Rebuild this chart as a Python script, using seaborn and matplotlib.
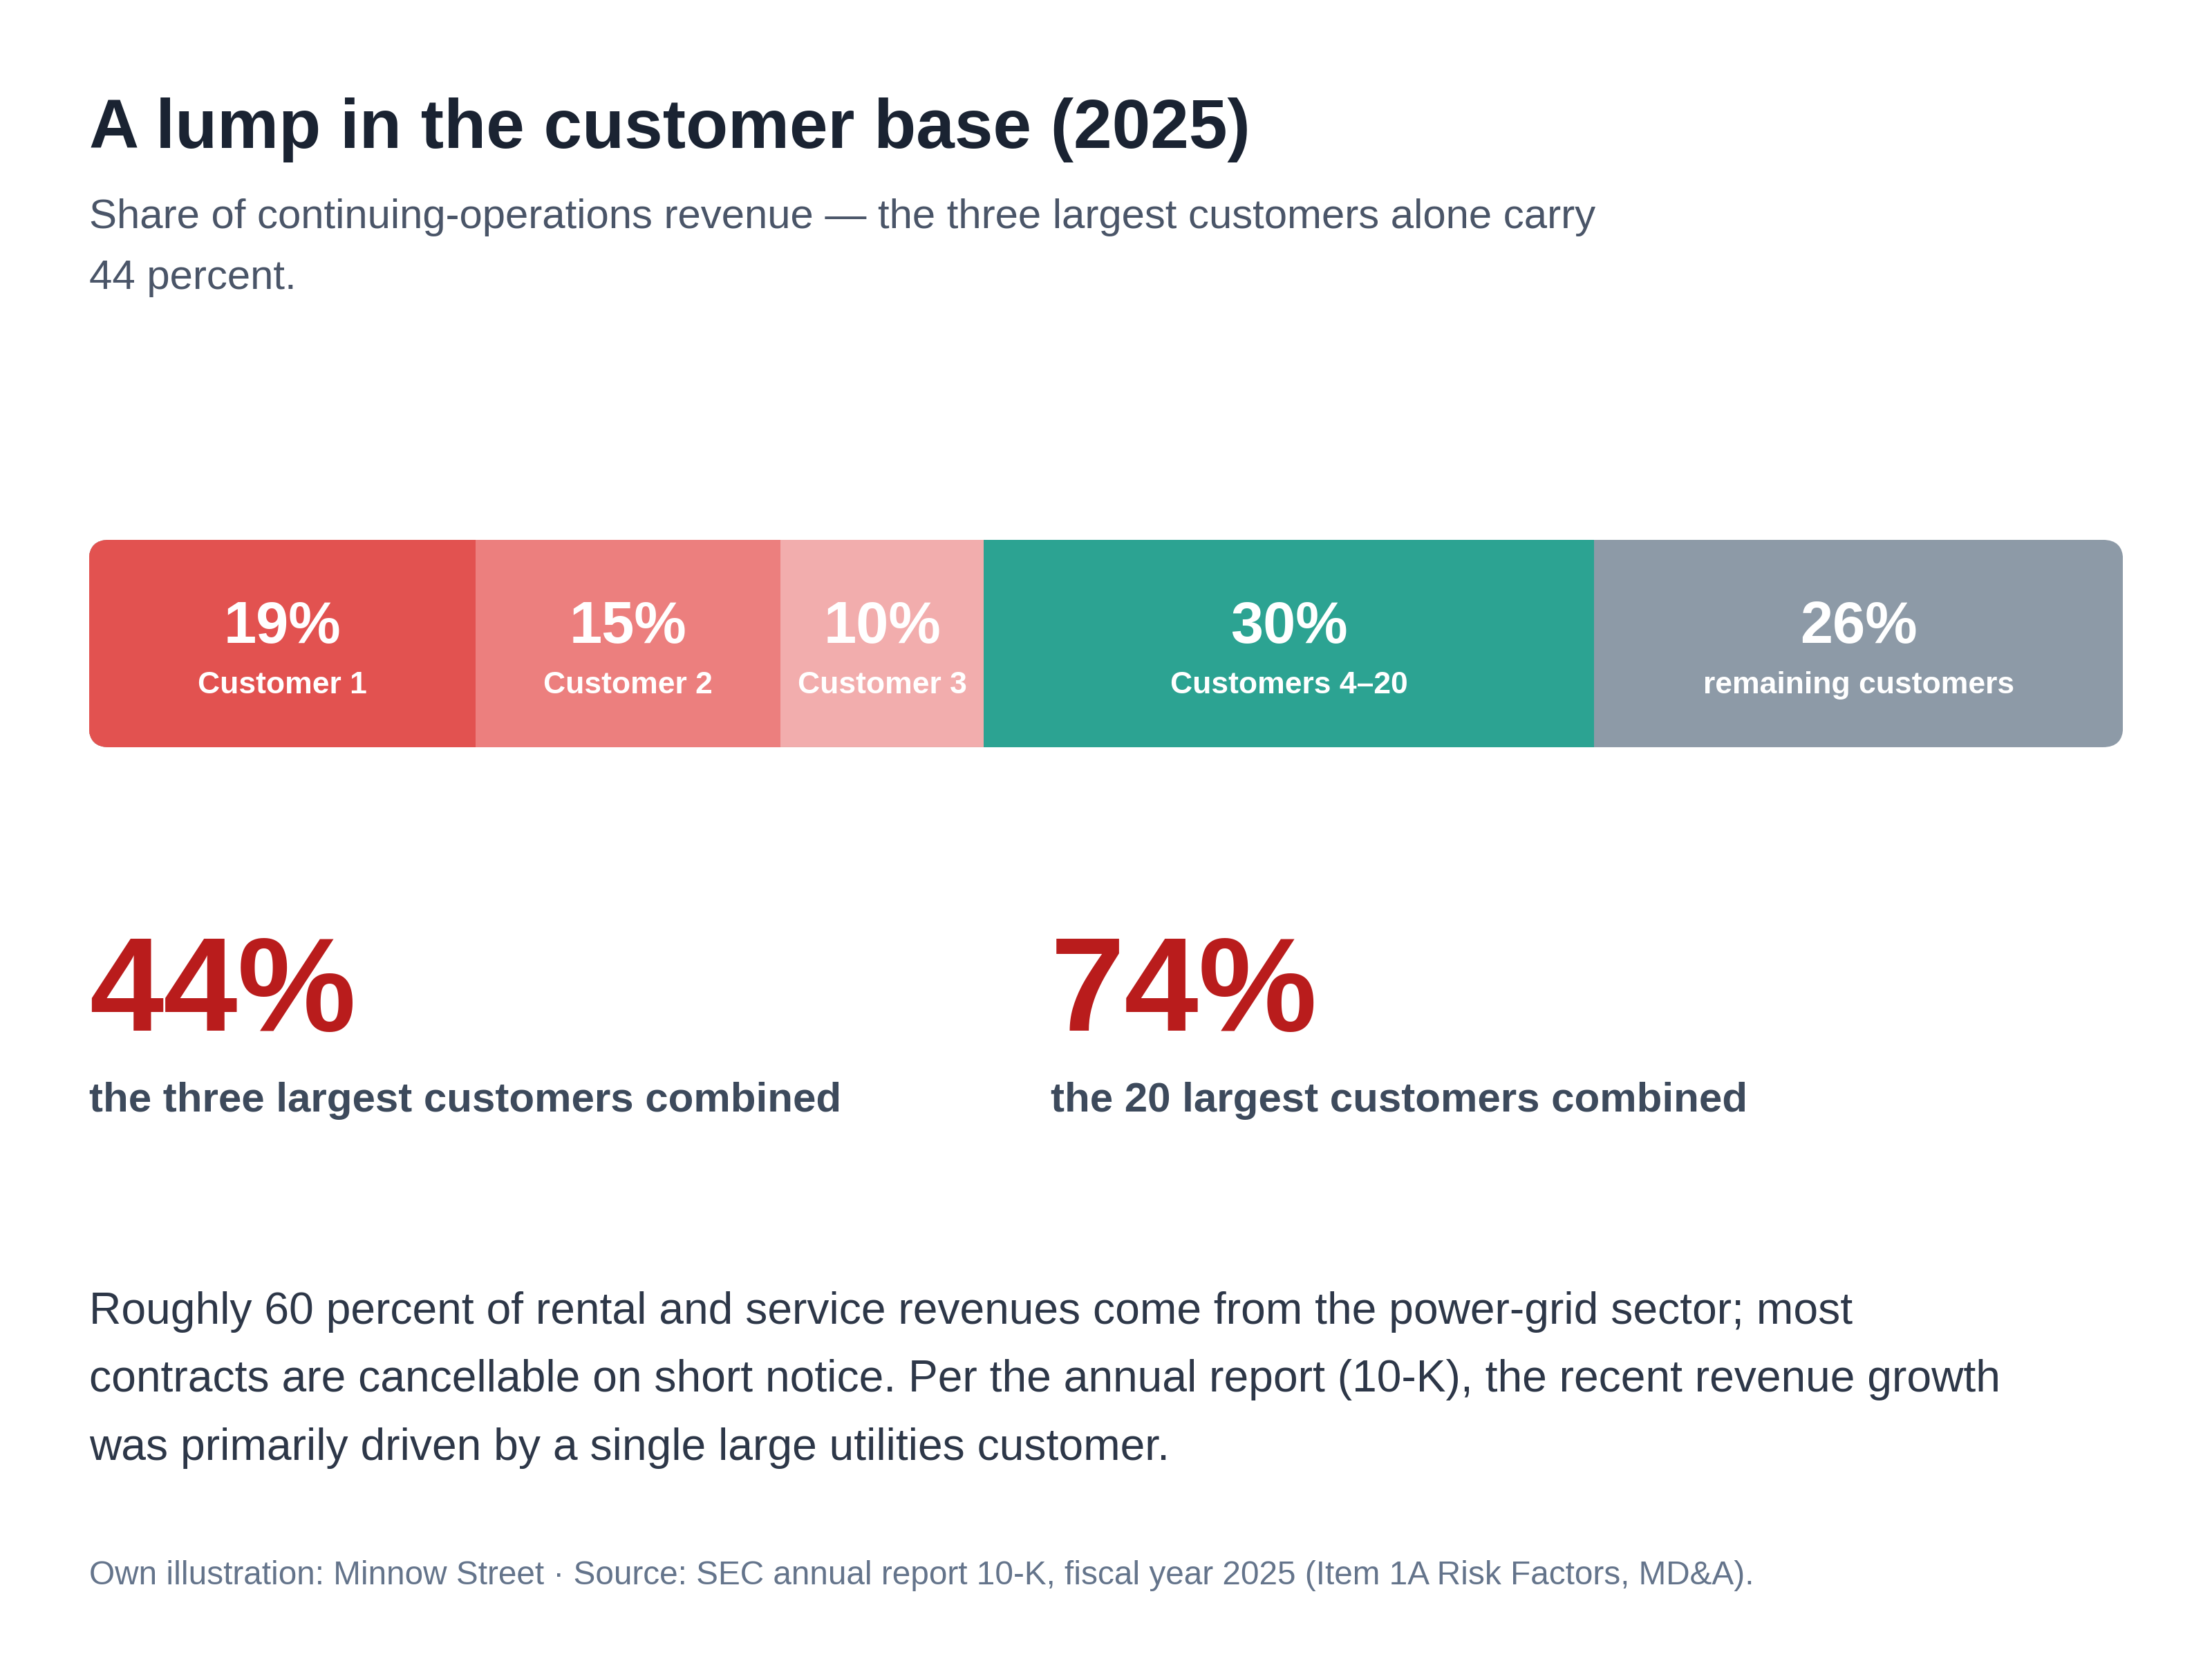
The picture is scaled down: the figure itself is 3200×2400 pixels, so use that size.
import numpy as np
import pandas as pd
import matplotlib
matplotlib.use("Agg")
import matplotlib.pyplot as plt
import matplotlib.transforms as mtransforms
from matplotlib.patches import FancyBboxPatch
import seaborn as sns

# data
segment_labels = ["Customer 1", "Customer 2", "Customer 3", "Customers 4\u201320", "remaining customers"]
segment_shares = [19, 15, 10, 30, 26]
segment_colors = ["#e25250", "#ec7f7e", "#f2adad", "#2ca392", "#8d9aa7"]

headline_values = [44, 74]
headline_captions = ["the three largest customers combined", "the 20 largest customers combined"]

title_text = "A lump in the customer base (2025)"
subtitle_lines = ["Share of continuing-operations revenue \u2014 the three largest customers alone carry",
                  "44 percent."]
body_lines = ["Roughly 60 percent of rental and service revenues come from the power-grid sector; most",
              "contracts are cancellable on short notice. Per the annual report (10-K), the recent revenue growth",
              "was primarily driven by a single large utilities customer."]
footer_text = ("Own illustration: Minnow Street \u00b7 Source: SEC annual report 10-K, "
               "fiscal year 2025 (Item 1A Risk Factors, MD&A).")

sns.set_theme(style="white")
plt.rcParams['font.family'] = ['Liberation Sans', 'DejaVu Sans']

fig = plt.figure(figsize=(16, 12), dpi=200)
fig.patch.set_facecolor("white")

left = 0.0402

# header
fig.text(left, 0.911, title_text, fontsize=36, fontweight="bold", color="#1a2332", va="baseline")
sub_y = [0.8625, 0.8258]
for line, yy in zip(subtitle_lines, sub_y):
    fig.text(left, yy, line, fontsize=21.6, color="#4a5568", va="baseline")

# stacked bar
ax = fig.add_axes([left, 0.5496, 0.9598 - left, 0.125])
df = pd.DataFrame({"label": segment_labels, "share": segment_shares, "color": segment_colors})
df["end"] = df["share"].cumsum()
df["mid"] = df["end"] - df["share"] / 2

# draw cumulative ends from the longest to shortest so each layer shows its own share
for _, row in df.iloc[::-1].iterrows():
    sns.barplot(x=[row["end"]], y=["share"], color=row["color"], saturation=1,
                width=1, orient="h", linewidth=0, ax=ax)

ax.set_xlim(0, 100)
ax.set_ylim(0.5, -0.5)
ax.axis("off")

rounded = FancyBboxPatch((0, -0.5), 100, 1, boxstyle="round,pad=0,rounding_size=0.985",
                         mutation_aspect=0.0995, transform=ax.transData,
                         facecolor="none", edgecolor="none")
for p in ax.patches:
    p.set_clip_path(rounded)

trans = mtransforms.blended_transform_factory(ax.transData, ax.transAxes)
for _, row in df.iterrows():
    ax.text(row["mid"], 0.503, f"{row['share']}%", transform=trans, ha="center", va="baseline",
            fontsize=30.5, fontweight="bold", color="white")
    ax.text(row["mid"], 0.26, row["label"], transform=trans, ha="center", va="baseline",
            fontsize=16, fontweight="bold", color="white")

# headline numbers
head_x = [left, 0.475]
for xx, val, cap in zip(head_x, headline_values, headline_captions):
    fig.text(xx, 0.3788, f"{val}%", fontsize=69.5, fontweight="bold", color="#b91c1c", va="baseline")
    fig.text(xx, 0.33, cap, fontsize=21.6, fontweight="bold", color="#3d4a5c", va="baseline")

# body
body_y = [0.2021, 0.1613, 0.12]
for line, yy in zip(body_lines, body_y):
    fig.text(left, yy, line, fontsize=23.1, color="#2d3748", va="baseline")

fig.text(left, 0.045, footer_text, fontsize=17.2, color="#64748b", va="baseline")

fig.savefig("out.png", dpi=200, facecolor="white")
